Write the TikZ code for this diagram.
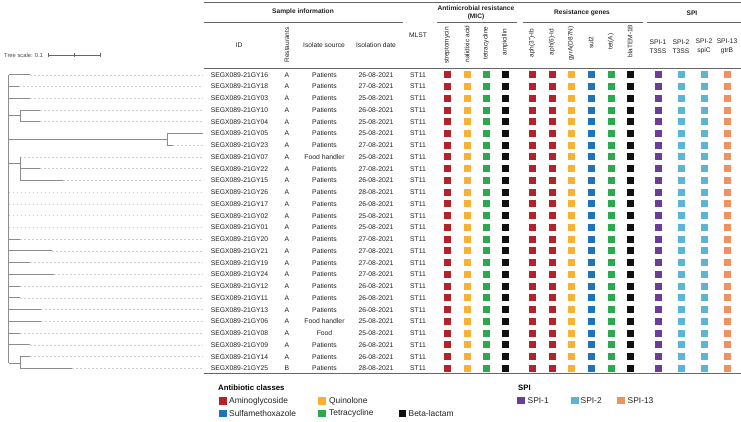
\documentclass[tikz,border=0pt]{standalone}
\usepackage{fontspec}
\setmainfont{Liberation Sans}
\definecolor{cRed}{HTML}{B3222B}
\definecolor{cOrg}{HTML}{F8B133}
\definecolor{cBlu}{HTML}{1E73BA}
\definecolor{cGrn}{HTML}{2CA84E}
\definecolor{cBlk}{HTML}{111111}
\definecolor{cPur}{HTML}{6B3D9A}
\definecolor{cLbl}{HTML}{5CB5D5}
\definecolor{cSal}{HTML}{EF9160}
\definecolor{txt}{HTML}{222222}
\definecolor{rulec}{HTML}{666666}
\definecolor{treec}{HTML}{8C8C8C}
\definecolor{leadc}{HTML}{CFCFCF}
\begin{document}
\begin{tikzpicture}[x=1pt,y=-1pt,
  cell/.style={font=\fontsize{6.8}{8}\selectfont, text=txt, inner sep=0pt, text height=4.9pt, text depth=0pt, anchor=center},
  hdr/.style={font=\fontsize{6.6}{8}\selectfont\bfseries, text=txt, inner sep=0pt, align=center},
  sub/.style={font=\fontsize{6.7}{9.5}\selectfont, text=txt, inner sep=0pt, align=center},
  vlab/.style={font=\fontsize{6.5}{7}\selectfont, text=txt, inner sep=0pt, rotate=90, anchor=center},
  sq/.style={minimum size=7pt, inner sep=0pt, fill=#1, draw=none},
  lsq/.style={minimum size=7.2pt, inner sep=0pt, fill=#1, draw=none},
  legt/.style={font=\fontsize{7.8}{9}\selectfont\bfseries, text=black, inner sep=0pt, anchor=west},
  legi/.style={font=\fontsize{8.4}{9}\selectfont, text=txt, inner sep=0pt, anchor=west},
  rule/.style={draw=rulec, line width=0.9pt},
  branch/.style={draw=treec, line width=0.9pt},
  leader/.style={draw=leadc, line width=0.6pt, dash pattern=on 1.8pt off 2.2pt}
]
\useasboundingbox[fill=white] (0,0) rectangle (741,421);

% ---------- table rules ----------
\draw[rule] (204,2) -- (741,2);
\draw[rule] (204,22) -- (403,22);
\draw[rule] (437,22) -- (517,22);
\draw[rule] (523,22) -- (643,22);
\draw[rule] (647,22) -- (741,22);
\draw[rule, line width=0.6pt] (204,68) -- (741,68);
\draw[rule] (204,373) -- (741,373);

% ---------- headers ----------
\node[hdr] (hSI) at (303,12) {Sample information};
\node[hdr] (hAR) at (476,12.5) {Antimicrobial resistance\\(MIC)};
\node[hdr] (hRG) at (582,13) {Resistance genes};
\node[hdr] (hSPI) at (692,13) {SPI};
\node[sub] (hID) at (239,45) {ID};
\node[vlab] (hRes) at (287,45) {Restaurants};
\node[sub] (hSrc) at (324,45) {Isolate source};
\node[sub] (hDate) at (376,45) {Isolation date};
\node[sub] (hMLST) at (418,35) {MLST};
\node[vlab] (v1) at (447,45.5) {streptomycin};
\node[vlab] (v2) at (467,44) {nalidixic acid};
\node[vlab] (v3) at (486,43) {tetracycline};
\node[vlab] (v4) at (505,42) {ampicillin};
\node[vlab] (v5) at (532,43) {aph(3'')-Ib};
\node[vlab] (v6) at (552,42) {aph(6)-Id};
\node[vlab] (v7) at (571,43.5) {gyrA(D87N)};
\node[vlab] (v8) at (591,42.5) {sul2};
\node[vlab] (v9) at (611,41.5) {tet(A)};
\node[vlab] (v10) at (630,41) {blaTEM-1B};
\node[sub] (p1) at (658,46.5) {SPI-1\\T3SS};
\node[sub] (p2) at (681,46.5) {SPI-2\\T3SS};
\node[sub] (p3) at (704,46.5) {SPI-2\\spiC};
\node[sub] (p4) at (727,46.5) {SPI-13\\gtrB};

% ---------- rows ----------
\foreach \i/\id/\r/\src/\d/\tx in {
1/16/A/Patients/26/30,
2/18/A/Patients/27/19,
3/03/A/Patients/25/30,
4/10/A/Patients/26/40,
5/04/A/Patients/25/40,
6/05/A/Patients/25/203,
7/23/A/Patients/27/173,
8/07/A/Food handler/25/20,
9/22/A/Patients/27/40,
10/15/A/Patients/26/63,
11/26/A/Patients/28/8.5,
12/17/A/Patients/26/8.5,
13/02/A/Patients/25/8.5,
14/01/A/Patients/25/8.5,
15/20/A/Patients/27/20,
16/21/A/Patients/27/52,
17/19/A/Patients/27/30,
18/24/A/Patients/27/54,
19/12/A/Patients/26/20,
20/11/A/Patients/26/20,
21/13/A/Patients/26/41,
22/06/A/Food handler/25/41,
23/08/A/Food/25/20,
24/09/A/Patients/26/30,
25/14/A/Patients/26/30,
26/25/B/Patients/28/72}{
  \pgfmathsetmacro\yy{74.8+(\i-1)*11.74}
  \node[cell] (id\i) at (239.5,\yy) {SEGX089-21GY\id};
  \node[cell] (rs\i) at (287,\yy) {\r};
  \node[cell] (src\i) at (324.5,\yy) {\src};
  \node[cell] (dt\i) at (376,\yy) {\d-08-2021};
  \node[cell] (ml\i) at (418,\yy) {ST11};
  \foreach \x/\c [count=\j] in {447/cRed,467/cOrg,486/cGrn,505/cBlk,532/cRed,552/cRed,571/cOrg,591/cBlu,611/cGrn,630/cBlk,658/cPur,681/cLbl,704/cLbl,727/cSal}
    \node[sq=\c] (s\i-\j) at (\x,\yy) {};
  \coordinate (t\i) at (\tx,\yy);
  \coordinate (e\i) at (203,\yy);
  \coordinate (r\i) at (8.5,\yy);
  \ifnum\i=6\else\draw[leader] (t\i) -- (e\i);\fi
}

% ---------- tree ----------
\coordinate (rootTop) at (r1);
\coordinate (rootBot) at (8.5,363.3);
\coordinate (nA) at (20,115.6);
\coordinate (nB) at (167,139.4);
\coordinate (nC) at (20,163);
\coordinate (nD) at (20,363.3);
\draw[branch] (rootTop) -- (rootBot);
% direct leaves of root
\foreach \i in {1,2,3,15,16,17,18,19,20,21,22,23,24}
  \draw[branch] (r\i) -- (t\i);
% clade A
\draw[branch] (r1 |- nA) -- (nA);
\draw[branch] (nA |- t4) -- (nA |- t5);
\draw[branch] (nA |- t4) -- (t4);
\draw[branch] (nA |- t5) -- (t5);
% clade B
\draw[branch] (r1 |- nB) -- (nB);
\draw[branch] (nB |- t6) -- (nB |- t7);
\draw[branch] (nB |- t6) -- (t6);
\draw[branch] (nB |- t7) -- (t7);
% clade C
\draw[branch] (r1 |- nC) -- (nC);
\draw[branch] (nC |- t8) -- (nC |- t10);
\draw[branch] (nC |- t9) -- (t9);
\draw[branch] (nC |- t10) -- (t10);
% clade D
\draw[branch] (rootBot) -- (nD);
\draw[branch] (nD |- t25) -- (nD |- t26);
\draw[branch] (nD |- t25) -- (t25);
\draw[branch] (nD |- t26) -- (t26);

% tree scale
\node[font=\fontsize{5.8}{7}\selectfont, text=black!70, inner sep=0pt, anchor=west] (tsl) at (4,55) {Tree scale: 0.1};
\coordinate (sb0) at (48,55);
\coordinate (sbm) at (74,55);
\coordinate (sb1) at (100,55);
\draw[draw=black!60, line width=0.5pt] (sb0) -- (sb1);
\foreach \p in {sb0,sbm,sb1}
  \draw[draw=black!60, line width=0.5pt] ([yshift=-1.8pt]\p) -- ([yshift=1.8pt]\p);

% ---------- legends ----------
\node[legt] (lAB) at (218,388) {Antibiotic classes};
\node[lsq=cRed] (lq1) at (223,401) {};
\node[legi] (lt1) at (229,401) {Aminoglycoside};
\node[lsq=cOrg] (lq2) at (322,401) {};
\node[legi] (lt2) at (329,401) {Quinolone};
\node[lsq=cBlu] (lq3) at (223,413.5) {};
\node[legi] (lt3) at (229,413.5) {Sulfamethoxazole};
\node[lsq=cGrn] (lq4) at (322,413.5) {};
\node[legi] (lt4) at (329,413.5) {Tetracycline};
\node[lsq=cBlk] (lq5) at (402.5,413.5) {};
\node[legi] (lt5) at (408.5,413.5) {Beta-lactam};

\node[legt] (lSPI) at (518,388) {SPI};
\node[lsq=cPur] (lp1) at (521,400.5) {};
\node[legi] (lpt1) at (527.5,400.5) {SPI-1};
\node[lsq=cLbl] (lp2) at (575,400.5) {};
\node[legi] (lpt2) at (580.5,400.5) {SPI-2};
\node[lsq=cSal] (lp3) at (621,400.5) {};
\node[legi] (lpt3) at (627.5,400.5) {SPI-13};
\end{tikzpicture}
\end{document}
